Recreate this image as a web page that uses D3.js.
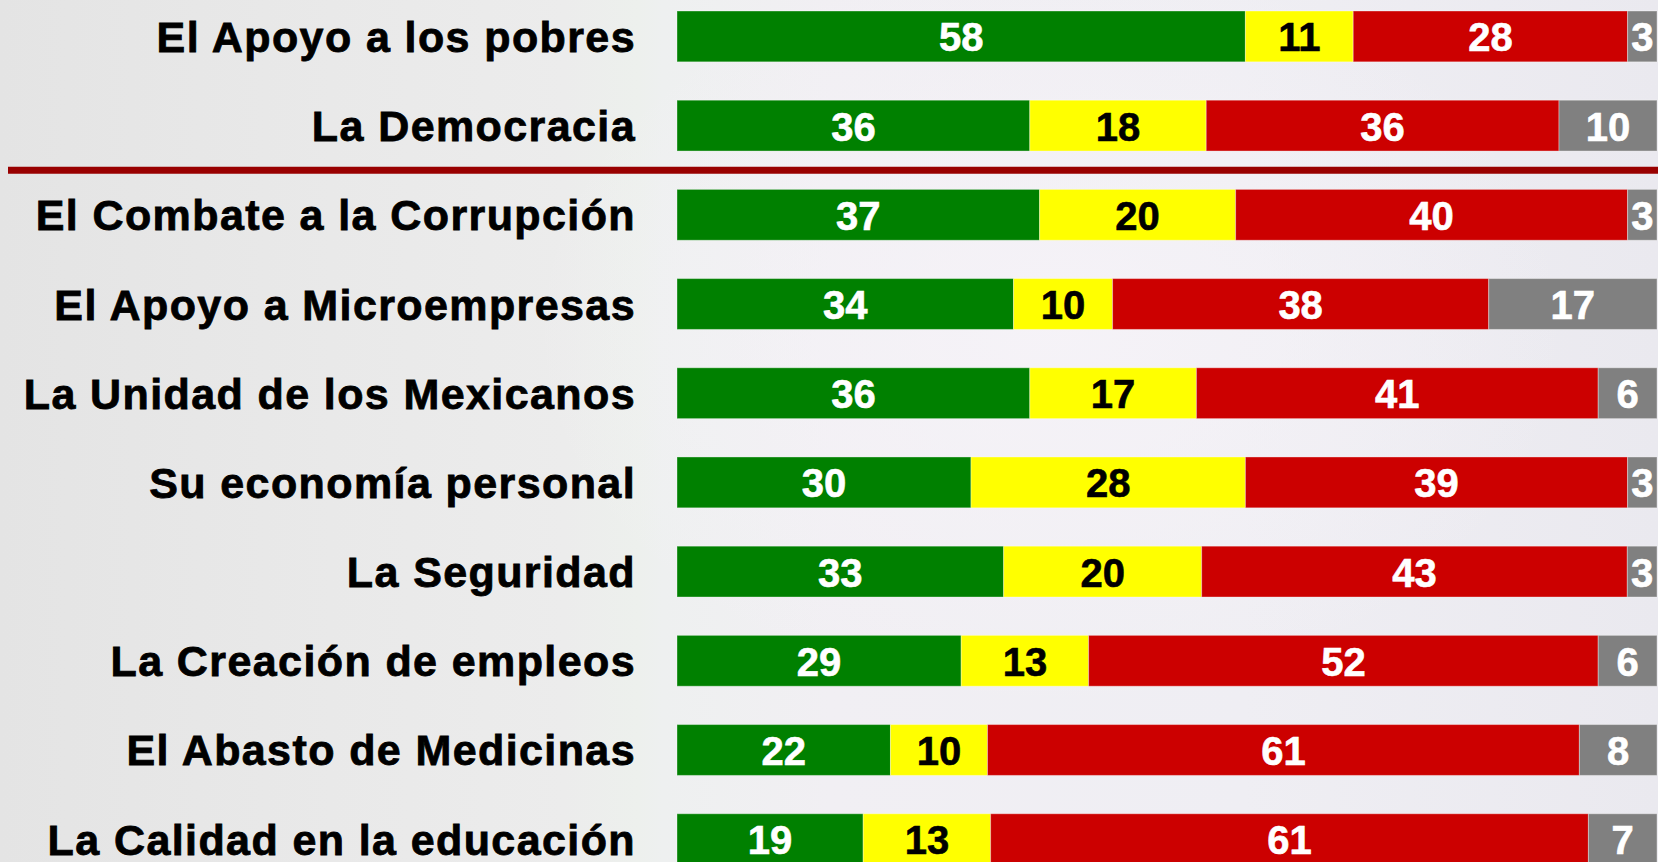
<!DOCTYPE html>
<html>
<head>
<meta charset="utf-8">
<script src="https://cdn.jsdelivr.net/npm/d3@7"></script>
<style>
  html, body { margin: 0; padding: 0; overflow: hidden; }
  svg { display: block; }
</style>
</head>
<body>
<div id="chartArea"></div>
<script>
(() => {
    // Data
    const categories = [
        "El Apoyo a los pobres",
        "La Democracia",
        "El Combate a la Corrupción",
        "El Apoyo a Microempresas",
        "La Unidad de los Mexicanos",
        "Su economía personal",
        "La Seguridad",
        "La Creación de empleos",
        "El Abasto de Medicinas",
        "La Calidad en la educación"
    ];
    const seriesNames = ["Bien", "Igual", "Mal", "NS/NC"];
    const bien = [58, 36, 37, 34, 36, 30, 33, 29, 22, 19];
    const igual = [11, 18, 20, 10, 17, 28, 20, 13, 10, 13];
    const mal = [28, 36, 40, 38, 41, 39, 43, 52, 61, 61];
    const nsnc = [3, 10, 3, 17, 6, 3, 3, 6, 8, 7];
    const separatorAfter = "La Democracia";

    // Dimensions
    const width = 1658,
        height = 862;

    const rows = categories.map((c, i) => ({
        name: c,
        Bien: bien[i],
        Igual: igual[i],
        Mal: mal[i],
        "NS/NC": nsnc[i]
    }));

    const stack = d3.stack()
        .keys(seriesNames)
        .offset(d3.stackOffsetExpand);
    const series = stack(rows);

    const x = d3.scaleLinear()
        .domain([0, 1])
        .range([677, 1657]);

    const y = d3.scaleBand()
        .domain(categories)
        .range([11, 864.6])
        .paddingInner(0.43)
        .paddingOuter(0);

    const z = d3.scaleOrdinal()
        .domain(seriesNames)
        .range(["#008000", "#ffff00", "#cc0000", "#808080"]);

    const textColor = d3.scaleOrdinal()
        .domain(seriesNames)
        .range(["#ffffff", "#000000", "#ffffff", "#ffffff"]);

    const svg = d3.select("#chartArea")
        .append("svg")
        .attr("width", width)
        .attr("height", height);

    // Background
    const defs = svg.append("defs");
    const bg = defs.append("linearGradient")
        .attr("id", "bg")
        .attr("x1", 0).attr("x2", 1).attr("y1", 0).attr("y2", 0);
    bg.selectAll("stop")
        .data([
            [0, "#e4e4e4"],
            [0.2, "#e9e9e9"],
            [0.34, "#ececec"],
            [0.385, "#edf0ed"],
            [0.4, "#eef0f0"],
            [0.5, "#f1eff3"],
            [0.75, "#efeef3"],
            [1, "#eae9ef"]
        ])
        .join("stop")
        .attr("offset", d => d[0])
        .attr("stop-color", d => d[1]);

    const glow = defs.append("radialGradient")
        .attr("id", "glow");
    glow.append("stop").attr("offset", 0).attr("stop-color", "#f6f3f8").attr("stop-opacity", 0.9);
    glow.append("stop").attr("offset", 1).attr("stop-color", "#f6f3f8").attr("stop-opacity", 0);

    svg.append("rect")
        .attr("width", width)
        .attr("height", height)
        .attr("fill", "url(#bg)");

    svg.append("ellipse")
        .attr("cx", 1050)
        .attr("cy", 330)
        .attr("rx", 520)
        .attr("ry", 380)
        .attr("fill", "url(#glow)");

    // Separator line
    const iSep = categories.indexOf(separatorAfter);
    const sepY = (y(categories[iSep]) + y.bandwidth() + y(categories[iSep + 1])) / 2;
    svg.append("line")
        .attr("x1", 8)
        .attr("x2", width)
        .attr("y1", sepY)
        .attr("y2", sepY)
        .attr("stroke", "#990000")
        .attr("stroke-width", 7);

    // Bars
    const layer = svg.append("g")
        .selectAll("g")
        .data(series)
        .join("g")
        .attr("fill", d => z(d.key));

    layer.selectAll("rect")
        .data(d => d)
        .join("rect")
        .attr("x", d => x(d[0]))
        .attr("y", d => y(d.data.name))
        .attr("width", d => x(d[1]) - x(d[0]))
        .attr("height", y.bandwidth())
        .attr("stroke", "rgba(255,255,255,0.35)")
        .attr("stroke-width", 1);

    // Value labels
    layer.selectAll("text")
        .data(d => d.map(v => Object.assign(v, { key: d.key })))
        .join("text")
        .attr("x", d => (x(d[0]) + x(d[1])) / 2)
        .attr("y", d => y(d.data.name) + y.bandwidth() / 2 + 15)
        .attr("text-anchor", "middle")
        .attr("fill", d => textColor(d.key))
        .attr("stroke", d => textColor(d.key))
        .attr("stroke-width", 0.6)
        .style("font-family", "'Liberation Sans', Arial, sans-serif")
        .style("font-weight", "bold")
        .style("font-size", "40px")
        .text(d => d.data[d.key]);

    // Category labels
    svg.append("g")
        .selectAll("text")
        .data(categories)
        .join("text")
        .attr("x", 636)
        .attr("y", d => y(d) + y.bandwidth() / 2 + 15.5)
        .attr("text-anchor", "end")
        .attr("fill", "#000")
        .attr("stroke", "#000")
        .attr("stroke-width", 0.8)
        .style("font-family", "'Liberation Sans', Arial, sans-serif")
        .style("font-weight", "bold")
        .style("font-size", "43px")
        .style("letter-spacing", "1.4px")
        .text(d => d);
})();
</script>
</body>
</html>
